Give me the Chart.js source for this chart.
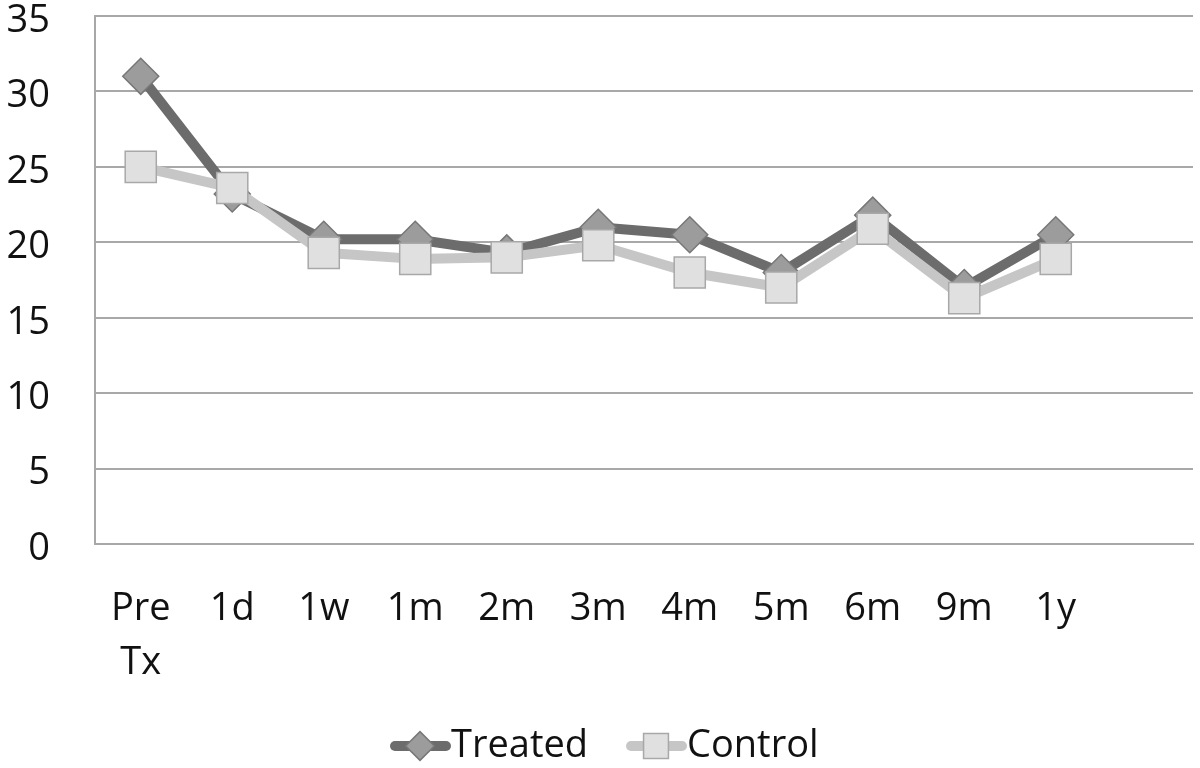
<!DOCTYPE html>
<html>
<head>
<meta charset="utf-8">
<script src="https://cdn.jsdelivr.net/npm/chart.js@4"></script>
<style>
  html, body { margin: 0; padding: 0; background: #fff; }
  #wrap { width: 1200px; height: 768px; }
</style>
</head>
<body>
<div id="wrap"><canvas id="chart"></canvas></div>
<script>
// data
const categories = [['Pre', 'Tx'], '1d', '1w', '1m', '2m', '3m', '4m', '5m', '6m', '9m', '1y', ''];
const treated = [31.0, 23.2, 20.2, 20.2, 19.3, 21.0, 20.5, 18.0, 21.8, 17.0, 20.5, null];
const control = [25.0, 23.6, 19.3, 18.9, 19.0, 19.8, 18.0, 17.0, 20.9, 16.3, 18.9, null];
const yTicks = [0, 5, 10, 15, 20, 25, 30, 35];

const FONT = '"Open Sans", "Liberation Sans", sans-serif';

// legend entries: line segment + marker + label, like the office-style legend
const bottomLegend = {
  id: 'bottomLegend',
  afterDraw(chart) {
    const ctx = chart.ctx;
    const y = 746;
    const items = [
      { x: 390, ds: chart.data.datasets[0] },
      { x: 626, ds: chart.data.datasets[1] }
    ];
    ctx.save();
    items.forEach(it => {
      const ds = it.ds;
      ctx.strokeStyle = ds.borderColor;
      ctx.lineWidth = ds.borderWidth;
      ctx.lineCap = 'round';
      ctx.beginPath();
      ctx.moveTo(it.x + 5, y);
      ctx.lineTo(it.x + 56, y);
      ctx.stroke();
      ctx.fillStyle = ds.pointBackgroundColor;
      ctx.strokeStyle = ds.pointBorderColor;
      ctx.lineWidth = ds.pointBorderWidth;
      Chart.helpers.drawPoint(ctx, {
        pointStyle: ds.pointStyle,
        radius: ds.pointRadius * 0.8,
        borderWidth: ds.pointBorderWidth
      }, it.x + 30, y);
      ctx.fillStyle = '#111';
      ctx.font = '38px ' + FONT;
      ctx.textBaseline = 'middle';
      ctx.textAlign = 'left';
      ctx.fillText(ds.label, it.x + 61, y);
    });
    ctx.restore();
  }
};

new Chart(document.getElementById('chart'), {
  type: 'line',
  data: {
    labels: categories,
    datasets: [
      {
        label: 'Treated',
        data: treated,
        borderColor: '#6c6c6c',
        borderWidth: 10,
        pointStyle: 'rectRot',
        pointRadius: 18,
        pointHoverRadius: 18,
        pointBackgroundColor: '#9c9c9c',
        pointBorderColor: '#777777',
        pointBorderWidth: 1.5,
        order: 2
      },
      {
        label: 'Control',
        data: control,
        borderColor: '#c6c6c6',
        borderWidth: 10,
        pointStyle: 'rect',
        pointRadius: 22,
        pointHoverRadius: 22,
        pointBackgroundColor: '#e0e0e0',
        pointBorderColor: '#a8a8a8',
        pointBorderWidth: 1.5,
        order: 1
      }
    ]
  },
  options: {
    responsive: true,
    maintainAspectRatio: false,
    animation: false,
    layout: { autoPadding: false, padding: { top: 16, right: 7, left: 0, bottom: 0 } },
    elements: { line: { tension: 0, borderJoinStyle: 'round' } },
    plugins: {
      legend: { display: false },
      tooltip: { enabled: false }
    },
    scales: {
      x: {
        offset: true,
        grid: { display: false, drawTicks: false },
        border: { display: true, color: '#a8a8a8', width: 2 },
        ticks: {
          color: '#111',
          font: { family: FONT, size: 38, lineHeight: 1.4 },
          padding: 39,
          maxRotation: 0,
          autoSkip: false
        },
        afterFit(scale) {
          scale.height = 224;
          scale.paddingLeft = 0;
          scale.paddingRight = 0;
        }
      },
      y: {
        min: 0,
        max: 35,
        afterBuildTicks(scale) { scale.ticks = yTicks.map(v => ({ value: v })); },
        grid: { color: '#a8a8a8', lineWidth: 2, drawTicks: false },
        border: { display: true, color: '#a8a8a8', width: 2 },
        ticks: {
          color: '#111',
          font: { family: FONT, size: 38 },
          padding: 45,
          labelOffset: 5
        },
        afterFit(scale) {
          scale.width = 95;
          scale.paddingTop = 0;
          scale.paddingBottom = 0;
        }
      }
    }
  },
  plugins: [bottomLegend]
});
</script>
</body>
</html>
